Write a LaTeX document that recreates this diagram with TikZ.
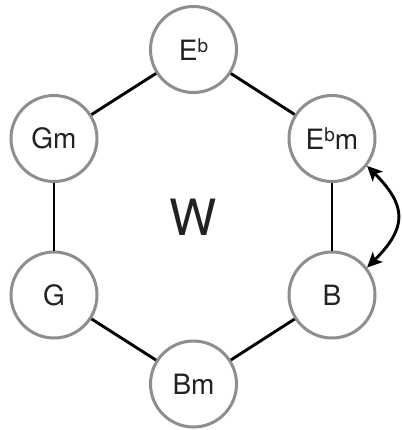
\documentclass[tikz,border=0pt]{standalone}
\usepackage{fontspec}
\setmainfont{TeX Gyre Heros}
\usetikzlibrary{arrows.meta,calc}
\definecolor{ringgray}{HTML}{8E8E8E}
\definecolor{txt}{HTML}{222222}
\newcommand{\myflat}{\raisebox{0.27em}{\fontsize{19}{19}\selectfont b}}
\begin{document}
\begin{tikzpicture}[x=1pt,y=-1pt,
  chord/.style={circle,draw=ringgray,line width=3pt,minimum size=86pt,inner sep=0pt,
    text=txt,font=\fontsize{28}{28}\selectfont},
  link/.style={line width=2.9pt,black},
  swap/.style={line width=2.9pt,black,{Stealth[length=15pt,width=14pt,inset=3.5pt]}-{Stealth[length=15pt,width=14pt,inset=3.5pt]}}]
\useasboundingbox (0,0) rectangle (401,430);
\node[chord] (eb) at (193.5,49.5) {E\myflat};
\node[chord] (gm) at (54,138.5) {Gm};
\node[chord] (ebm) at (332,138.5) {E\myflat m};
\node[chord] (g) at (54,295) {G};
\node[chord] (b) at (332,295) {B};
\node[chord] (bm) at (193.5,384) {Bm};
\node[text=txt,font=\fontsize{50}{50}\selectfont] (w) at (193.5,217) {W};
\draw[link] (eb) -- (ebm);
\draw[link] (ebm) -- (b);
\draw[link] (b) -- (bm);
\draw[link] (bm) -- (g);
\draw[link] (g) -- (gm);
\draw[link] (gm) -- (eb);
\draw[swap] (ebm.-38) .. controls ($(ebm.-38)+(40,40)$) and ($(b.38)+(40,-40)$) .. (b.38);
\end{tikzpicture}
\end{document}
